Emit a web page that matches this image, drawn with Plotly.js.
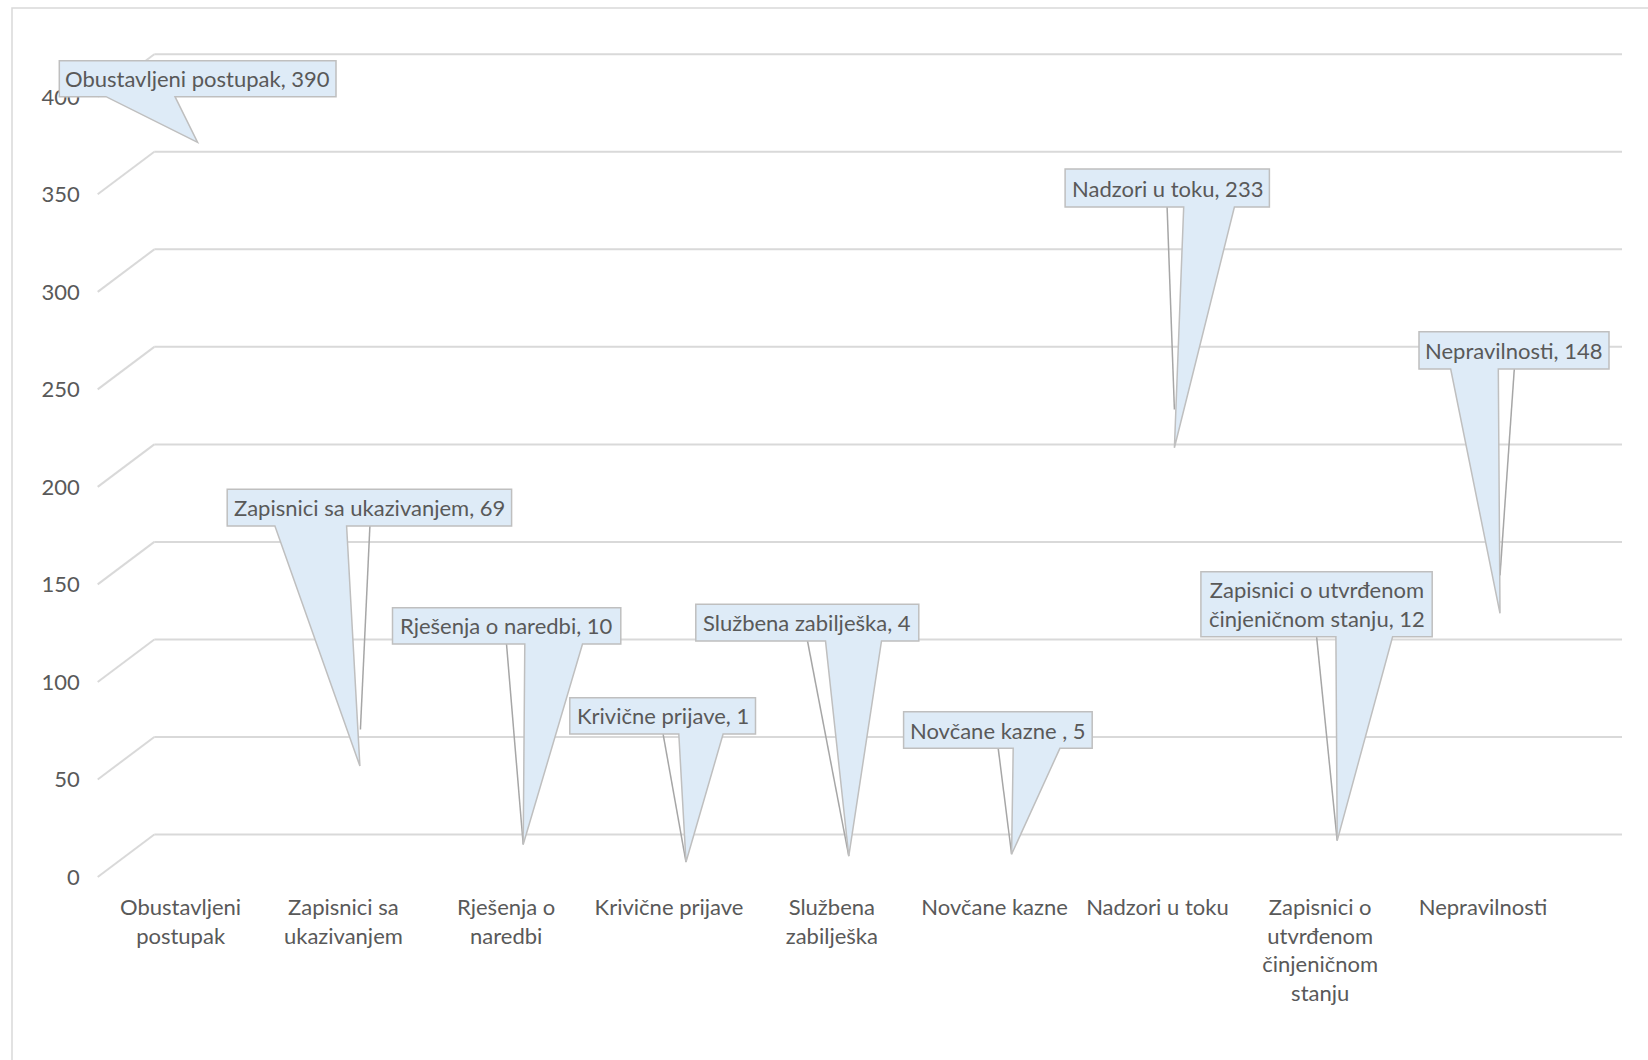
<!DOCTYPE html>
<html>
<head>
<meta charset="utf-8">
<script src="https://cdn.plot.ly/plotly-3.0.1.min.js"></script>
<style>
  html, body { margin: 0; padding: 0; background: #ffffff; }
  #chart { width: 1648px; height: 1060px; }
</style>
</head>
<body>
<div id="chart"></div>
<script>
// ---------- data ----------
const categories = [
  'Obustavljeni postupak',
  'Zapisnici sa ukazivanjem',
  'Rješenja o naredbi',
  'Krivične prijave',
  'Službena zabilješka',
  'Novčane kazne',
  'Nadzori u toku',
  'Zapisnici o utvrđenom činjeničnom stanju',
  'Nepravilnosti'
];
const values = [390, 69, 10, 1, 4, 5, 233, 12, 148];
const tickLabels = [
  'Obustavljeni<br>postupak',
  'Zapisnici sa<br>ukazivanjem',
  'Rješenja o<br>naredbi',
  'Krivične prijave',
  'Službena<br>zabilješka',
  'Novčane kazne',
  'Nadzori u toku',
  'Zapisnici o<br>utvrđenom<br>činjeničnom<br>stanju',
  'Nepravilnosti'
];
const calloutTexts = [
  'Obustavljeni postupak, 390',
  'Zapisnici sa ukazivanjem, 69',
  'Rješenja o naredbi, 10',
  'Krivične prijave, 1',
  'Službena zabilješka, 4',
  'Novčane kazne , 5',
  'Nadzori u toku, 233',
  'Zapisnici o utvrđenom<br>činjeničnom stanju, 12',
  'Nepravilnosti, 148'
];
const yTicks = [0, 50, 100, 150, 200, 250, 300, 350, 400];

// ---------- callout placement (pixel offsets from each data point, y down-positive) ----------
// box: [left, right, top, bottom]; wedge base: [left, right]; tip: [dx, dy]; leader start x
const calloutBox = [
  [-138.3, 138.4, -42.6, -6.6],
  [-133.2, 151.2, -240.1, -203.4],
  [-130.7, 97.6, -236.8, -200.5],
  [-116.2, 69.5, -164.2, -128],
  [-153, 70, -251.9, -215.2],
  [-108, 80.6, -142.5, -105.9],
  [-109.3, 95, -240.5, -202.5],
  [-136.3, 95, -268.9, -203.9],
  [-81, 109, -243.6, -206.3]
];
const calloutWedge = [
  [-91.6, -22.6], [-85.5, -13.8], [1.6, 59.3], [-7.2, 37.1], [-23.3, 32.7],
  [1.6, 48.3], [9.3, 60], [-1.3, 55.4], [-49.3, -1.7]
];
const calloutTip = [
  [0, 39], [-0.5, 36.6], [0, 0], [0, 0], [0, 0], [0, 0], [0, 38.2], [0, 0], [0, 38]
];
const leaderStart = [null, 9.5, -16.7, -22.9, -41.3, -13.4, -7.3, -20.6, 14.3];

// ---------- geometry of the plot frame (pixels) ----------
const W = 1648, H = 1060;
const M = {l: 20, r: 26, t: 20, b: 170};
const plotW = W - M.l - M.r, plotH = H - M.t - M.b;
const px2paperX = p => (p - M.l) / plotW;
const px2paperY = p => (H - M.b - p) / plotH;
const pxPerUnit = 1.9505;
const zeroPx = 864;
const yMin = -((H - M.b) - zeroPx) / pxPerUnit;
const yMax = yMin + plotH / pxPerUnit;
const catX0 = 197.6, catStep = 162.8;
const xMin = (M.l - catX0) / catStep;
const xMax = (W - M.r - catX0) / catStep;

const FONT = 'Lato, "Open Sans", sans-serif';
const TXT = '#595959';
const GRID = '#D9D9D9';

const shapes = [];
// chart area border
shapes.push({
  type: 'rect', xref: 'paper', yref: 'paper',
  x0: px2paperX(12), x1: px2paperX(W + 20), y0: px2paperY(8), y1: px2paperY(H + 20),
  line: {color: GRID, width: 1.5}, fillcolor: 'rgba(0,0,0,0)', layer: 'below'
});
// back-wall gridlines and side-wall diagonals (3-D perspective)
const backLift = 29.5, frontDrop = -13;
yTicks.forEach(v => {
  shapes.push({
    type: 'line', xref: 'paper', yref: 'y', ysizemode: 'pixel', yanchor: v,
    x0: px2paperX(154.3), x1: 1, y0: backLift, y1: backLift,
    line: {color: GRID, width: 2}, layer: 'below'
  });
  shapes.push({
    type: 'line', xref: 'paper', yref: 'y', ysizemode: 'pixel', yanchor: v,
    x0: px2paperX(97.7), x1: px2paperX(154.3), y0: frontDrop, y1: backLift,
    line: {color: GRID, width: 2}, layer: 'below'
  });
});

const annotations = [];
categories.forEach((c, i) => {
  const [L, R, T, B] = calloutBox[i];
  const [wl, wr] = calloutWedge[i];
  const [tx, ty] = calloutTip[i];
  // leader line (drawn under the callout)
  if (leaderStart[i] !== null) {
    shapes.push({
      type: 'path', xref: 'x', yref: 'y', xsizemode: 'pixel', ysizemode: 'pixel',
      xanchor: c, yanchor: values[i],
      path: `M${leaderStart[i]},${-B} L0,0`,
      line: {color: '#A6A6A6', width: 1.5}
    });
  }
  const path = `M${L},${-T} L${R},${-T} L${R},${-B} L${wr},${-B} L${tx},${-ty} L${wl},${-B} L${L},${-B} Z`;
  shapes.push({
    type: 'path', xref: 'x', yref: 'y', xsizemode: 'pixel', ysizemode: 'pixel',
    xanchor: c, yanchor: values[i], path: path,
    fillcolor: '#DEEBF7', line: {color: '#BFBFBF', width: 1.5}
  });
  annotations.push({
    x: c, y: values[i], xref: 'x', yref: 'y',
    xshift: (L + R) / 2, yshift: -(T + B) / 2,
    text: calloutTexts[i], showarrow: false, align: 'center',
    font: {family: FONT, size: 22, color: TXT}
  });
});

const data = [{
  type: 'bar', x: categories, y: values,
  marker: {color: 'rgba(0,0,0,0)'}, hoverinfo: 'skip', showlegend: false
}];

const layout = {
  width: W, height: H,
  margin: M,
  paper_bgcolor: '#ffffff', plot_bgcolor: 'rgba(0,0,0,0)',
  showlegend: false,
  font: {family: FONT, size: 22, color: TXT},
  xaxis: {
    type: 'category', range: [xMin, xMax],
    tickvals: categories, ticktext: tickLabels,
    showgrid: false, zeroline: false, showline: false, ticks: '',
    ticklabelshift: -17, ticklabelstandoff: 2,
    tickfont: {family: FONT, size: 22, color: TXT}
  },
  yaxis: {
    range: [yMin, yMax], anchor: 'free', position: px2paperX(97.7),
    tickvals: yTicks, showgrid: false, zeroline: false, showline: false, ticks: '',
    ticklabelshift: 13, ticklabelstandoff: 18,
    tickfont: {family: FONT, size: 22, color: TXT}
  },
  shapes: shapes,
  annotations: annotations
};

Plotly.newPlot('chart', data, layout, {displayModeBar: false, staticPlot: true});
</script>
</body>
</html>
